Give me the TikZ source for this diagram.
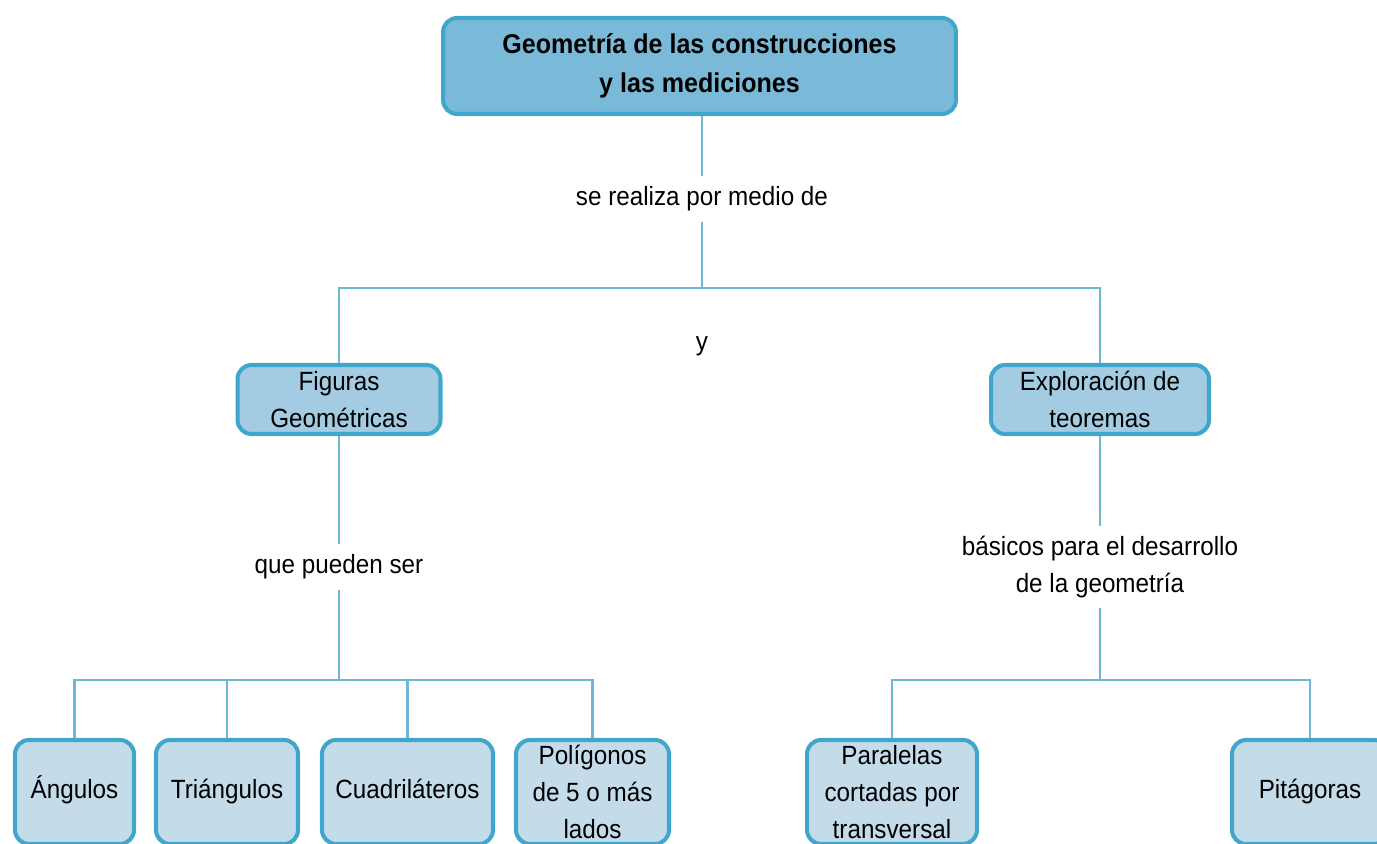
\documentclass[tikz,border=0pt]{standalone}
\usepackage{fontspec}
\setmainfont{Liberation Sans}[FakeStretch=0.92]
\usetikzlibrary{calc}
\definecolor{EdgeClr}{rgb}{0.25,0.65,0.8}
\definecolor{LineClr}{rgb}{0.43,0.72,0.84}
\definecolor{TopClr}{rgb}{0.48,0.725,0.843}
\definecolor{MidClr}{rgb}{0.64,0.8,0.886}
\definecolor{LowClr}{rgb}{0.77,0.862,0.918}

\tikzset{
  box/.style={draw=EdgeClr,line width=2.3pt,rounded corners=0.28cm,
    align=center,inner sep=0pt,font=\fontsize{15}{21}\selectfont},
  topbox/.style={box,fill=TopClr,minimum width=10.26cm,minimum height=1.92cm,
    font=\fontsize{15.5}{22}\selectfont\bfseries},
  midbox/.style={box,fill=MidClr,minimum height=1.38cm},
  lowbox/.style={box,fill=LowClr,minimum height=2.08cm},
  oneline/.style={text height=11pt,text depth=3.5pt},
  lbl/.style={align=center,inner sep=0.2cm,font=\fontsize{15}{21}\selectfont},
  conn/.style={draw=LineClr,line width=1.2pt}
}

\begin{document}
\begin{tikzpicture}[x=0.02cm,y=-0.02cm]
\useasboundingbox (0,0) rectangle (1377,844);
\clip (0,0) rectangle (1377,844);

% upper level
\node[topbox] (geo) at (699.5,66) {Geometría de las construcciones\\y las mediciones};
\node[lbl] (medio) at (702,199) {se realiza por medio de};
\node[lbl] (y) at (702,346) {y};
\coordinate (J) at (702,288);

\node[midbox,minimum width=4.06cm] (fig) at (339,399.5) {Figuras\\Geométricas};
\node[midbox,minimum width=4.36cm] (expl) at (1100,399.5) {Exploración de\\teoremas};

% labels of the branches
\node[lbl] (pueden) at (339,567) {que pueden ser};
\node[lbl] (basicos) at (1100,567) {básicos para el desarrollo\\de la geometría};
\coordinate (JL) at (339,680);
\coordinate (JR) at (1100,680);

% lower level
\node[lowbox,oneline,minimum width=2.38cm] (ang) at (74.5,792) {Ángulos};
\node[lowbox,oneline,minimum width=2.84cm] (tri) at (227,792) {Triángulos};
\node[lowbox,oneline,minimum width=3.42cm] (cua) at (407.5,792) {Cuadriláteros};
\node[lowbox,minimum width=3.06cm] (pol) at (592.5,792) {Polígonos\\de 5 o más\\lados};
\node[lowbox,minimum width=3.40cm] (par) at (892,792) {Paralelas\\cortadas por\\transversal};
\node[lowbox,oneline,minimum width=3.12cm] (pit) at (1310,792) {Pitágoras};

% connectors
\draw[conn] (medio) -- (medio|-geo.south);
\draw[conn] (medio) -- (J);
\draw[conn] (fig) |- (J) -| (expl);

\draw[conn] (fig) -- (pueden);
\draw[conn] (pueden) -- (JL);
\draw[conn] (ang) |- (JL) -| (pol);
\draw[conn] (tri) -- (tri|-JL);
\draw[conn] (cua) -- (cua|-JL);

\draw[conn] (expl) -- (basicos);
\draw[conn] (basicos) -- (JR);
\draw[conn] (par) |- (JR) -| (pit);
\end{tikzpicture}
\end{document}
